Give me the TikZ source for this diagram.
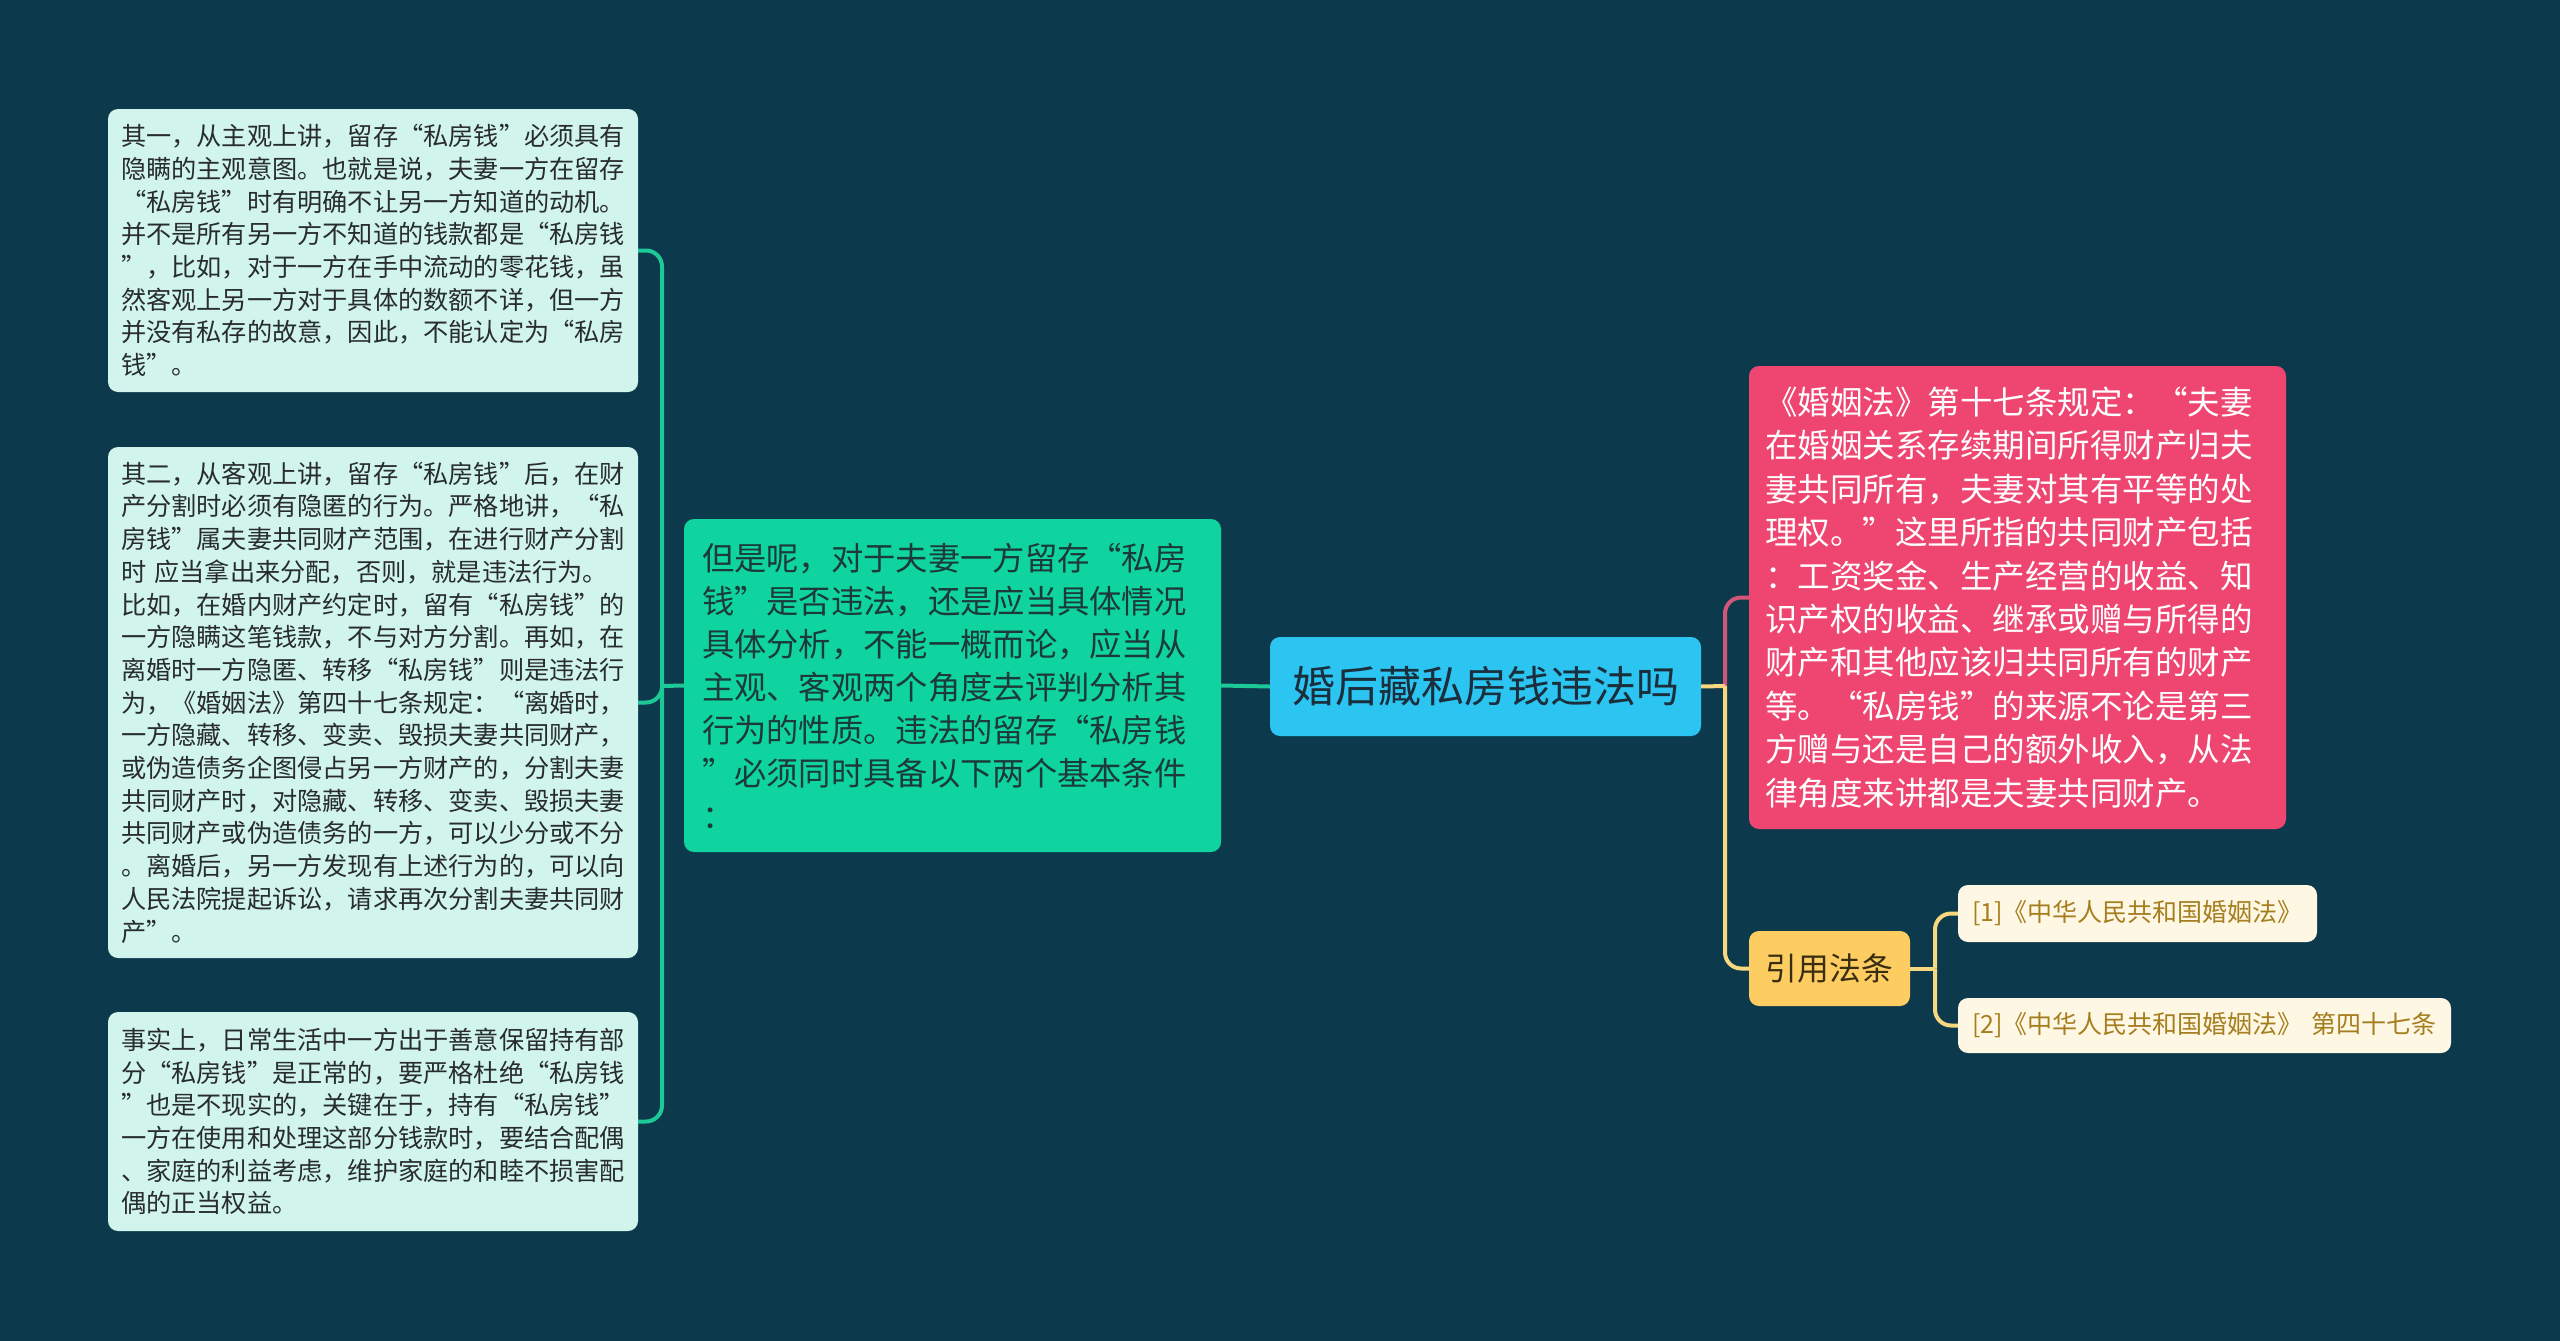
\documentclass[tikz,border=0pt]{standalone}
\usepackage{fontspec}
\setmainfont{Noto Sans CJK SC}
\definecolor{bgc}{RGB}{12,58,76}
\definecolor{leaffill}{RGB}{209,245,236}
\definecolor{leaftext}{RGB}{40,44,44}
\definecolor{greenfill}{RGB}{16,212,160}
\definecolor{greentext}{RGB}{28,58,56}
\definecolor{bluefill}{RGB}{44,196,240}
\definecolor{bluetext}{RGB}{26,46,60}
\definecolor{pinkfill}{RGB}{238,70,112}
\definecolor{yellowfill}{RGB}{253,205,98}
\definecolor{yellowtext}{RGB}{58,46,16}
\definecolor{reffill}{RGB}{254,247,227}
\definecolor{reftext}{RGB}{165,126,30}
\definecolor{tealline}{RGB}{30,201,152}
\definecolor{pinkline}{RGB}{210,86,120}
\definecolor{yellowline}{RGB}{247,216,128}
\tikzset{
  box/.style={rounded corners=10pt, inner ysep=0pt, anchor=center},
  leaf/.style={box, fill=leaffill, text=leaftext, align=left, inner xsep=13pt,
    text width=504pt, font=\fontsize{25.2pt}{32.7pt}\selectfont},
  mid/.style={box, fill=greenfill, text=greentext, align=left, inner xsep=18pt,
    text width=501pt, minimum height=333pt, font=\fontsize{32.3pt}{43pt}\selectfont},
  root/.style={box, fill=bluefill, text=bluetext, align=center, inner xsep=0pt,
    minimum width=431pt, minimum height=99pt, font=\fontsize{43pt}{50pt}\selectfont},
  law/.style={box, fill=pinkfill, text=white, align=left, inner xsep=16pt,
    text width=505pt, minimum height=463pt, font=\fontsize{32.5pt}{43.4pt}\selectfont},
  cite/.style={box, fill=yellowfill, text=yellowtext, align=center, inner xsep=0pt,
    minimum width=161pt, minimum height=75pt, font=\fontsize{31.8pt}{38pt}\selectfont},
  ref/.style={box, fill=reffill, text=reftext, align=left, inner xsep=14pt,
    font=\fontsize{25pt}{30pt}\selectfont},
  conn/.style={line width=4pt, rounded corners=16pt}
}
\begin{document}
\begin{tikzpicture}[x=1pt,y=-1pt]
\fill[bgc] (0,0) rectangle (2560,1341);

\node[leaf, minimum height=283pt] (a) at (373,250.5) {其一，从主观上讲，留存“私房钱”必须具有\\隐瞒的主观意图。也就是说，夫妻一方在留存\\“私房钱”时有明确不让另一方知道的动机。\\并不是所有另一方不知道的钱款都是“私房钱\\”，比如，对于一方在手中流动的零花钱，虽\\然客观上另一方对于具体的数额不详，但一方\\并没有私存的故意，因此，不能认定为“私房\\钱”。};

\node[leaf, minimum height=511pt] (b) at (373,702.5) {其二，从客观上讲，留存“私房钱”后，在财\\产分割时必须有隐匿的行为。严格地讲，“私\\房钱”属夫妻共同财产范围，在进行财产分割\\时~应当拿出来分配，否则，就是违法行为。\\比如，在婚内财产约定时，留有“私房钱”的\\一方隐瞒这笔钱款，不与对方分割。再如，在\\离婚时一方隐匿、转移“私房钱”则是违法行\\为，《婚姻法》第四十七条规定：“离婚时，\\一方隐藏、转移、变卖、毁损夫妻共同财产，\\或伪造债务企图侵占另一方财产的，分割夫妻\\共同财产时，对隐藏、转移、变卖、毁损夫妻\\共同财产或伪造债务的一方，可以少分或不分\\。离婚后，另一方发现有上述行为的，可以向\\人民法院提起诉讼，请求再次分割夫妻共同财\\产”。};

\node[leaf, minimum height=219pt] (c) at (373,1121.5) {事实上，日常生活中一方出于善意保留持有部\\分“私房钱”是正常的，要严格杜绝“私房钱\\”也是不现实的，关键在于，持有“私房钱”\\一方在使用和处理这部分钱款时，要结合配偶\\、家庭的利益考虑，维护家庭的和睦不损害配\\偶的正当权益。};

\node[mid] (g) at (952.5,685.5) {但是呢，对于夫妻一方留存“私房\\钱”是否违法，还是应当具体情况\\具体分析，不能一概而论，应当从\\主观、客观两个角度去评判分析其\\行为的性质。违法的留存“私房钱\\”必须同时具备以下两个基本条件\\：};

\node[root] (r) at (1485.5,686.5) {婚后藏私房钱违法吗};

\node[law] (p) at (2017.5,597.5) {《婚姻法》第十七条规定：“夫妻\\在婚姻关系存续期间所得财产归夫\\妻共同所有，夫妻对其有平等的处\\理权。”这里所指的共同财产包括\\：工资奖金、生产经营的收益、知\\识产权的收益、继承或赠与所得的\\财产和其他应该归共同所有的财产\\等。“私房钱”的来源不论是第三\\方赠与还是自己的额外收入，从法\\律角度来讲都是夫妻共同财产。};

\node[cite] (y) at (1829.5,968.5) {引用法条};

\node[ref, text width=331pt, minimum height=57pt] (r1) at (2137.5,913.5) {[1]《中华人民共和国婚姻法》};
\node[ref, text width=465pt, minimum height=55pt] (r2) at (2204.5,1025.5) {[2]《中华人民共和国婚姻法》 第四十七条};

\coordinate (jl) at (662,686);
\coordinate (jr) at (1725,686);
\coordinate (jy) at (1935,968.5);

\draw[conn, tealline] (r.west) -- (g.east);
\draw[conn, tealline] (g.west) -- (jl);
\draw[conn, tealline] (jl) |- (a.east);
\draw[conn, tealline] (jl) |- (b.east);
\draw[conn, tealline] (jl) |- (c.east);

\draw[conn, pinkline] (jr) |- (p.west);
\draw[conn, yellowline] (jr) |- (y.west);
\draw[conn, yellowline] (r.east) -- (jr);

\draw[conn, yellowline] (y.east) -- (jy);
\draw[conn, yellowline] (jy) |- (r1.west);
\draw[conn, yellowline] (jy) |- (r2.west);
\end{tikzpicture}
\end{document}
